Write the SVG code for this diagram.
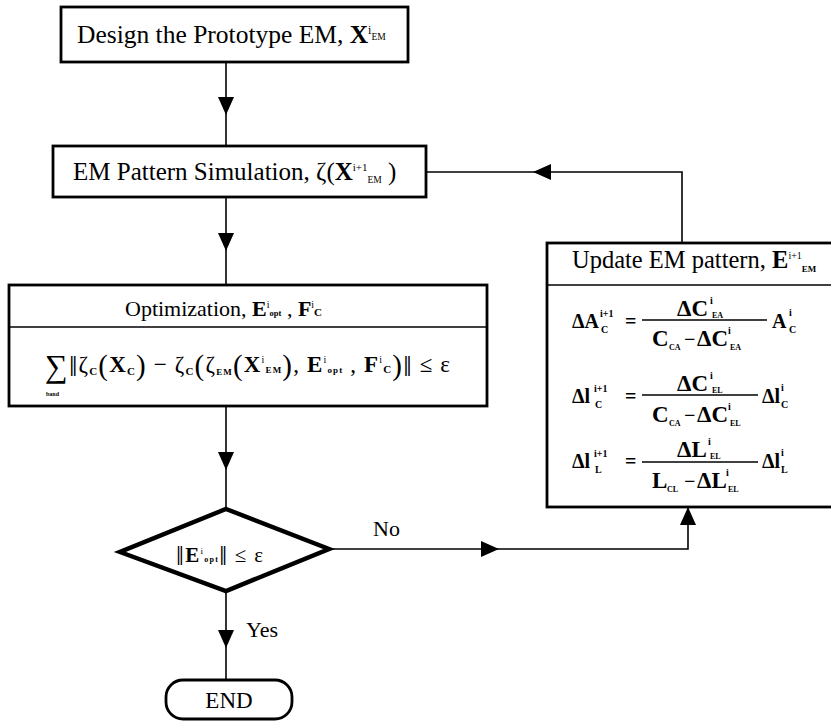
<svg xmlns="http://www.w3.org/2000/svg" width="831" height="722" viewBox="0 0 831 722">
<style>
text{font-family:"Liberation Serif","Times New Roman","DejaVu Serif",serif;fill:#000}
.box{fill:#fff;stroke:#000;stroke-width:2.8}
.dia{fill:#fff;stroke:#000;stroke-width:4.5;stroke-linejoin:miter}
.div{stroke:#000;stroke-width:1.5}
.bar{stroke:#000;stroke-width:1.3}
.con{fill:none;stroke:#000;stroke-width:1.6}
.b{font-weight:bold}
.m{font-size:20px;font-weight:bold}
.n{font-size:23px;font-weight:bold}
.sp{font-size:10px;font-weight:bold}
.sb{font-size:8px;font-weight:bold}
</style>
<defs>
<marker id="ah" viewBox="0 0 18 16" refX="18" refY="8" markerWidth="18" markerHeight="16" markerUnits="userSpaceOnUse" orient="auto">
<path d="M0,0 L18,8 L0,16 z" fill="#000"/>
</marker>
</defs>

<g id="connectors">
<path class="con" d="M226,62 V115" marker-end="url(#ah)"/>
<path class="con" d="M226,115 V146"/>
<path class="con" d="M226,197 V251" marker-end="url(#ah)"/>
<path class="con" d="M226,251 V285"/>
<path class="con" d="M226,406 V470" marker-end="url(#ah)"/>
<path class="con" d="M226,470 V509"/>
<path class="con" d="M226,591 V648" marker-end="url(#ah)"/>
<path class="con" d="M226,648 V680"/>
<path class="con" d="M329,549 H499" marker-end="url(#ah)"/>
<path class="con" d="M499,549 H688 V507" marker-end="url(#ah)"/>
<path class="con" d="M682,243 V172 H533" marker-end="url(#ah)"/>
<path class="con" d="M533,172 H426"/>
<text x="373" y="536" style="font-size:22px">No</text>
<text x="246" y="637" style="font-size:22px">Yes</text>
</g>

<g id="n-design">
<rect class="box" x="61" y="7" width="347" height="55"/>
<text x="77" y="43" style="font-size:25.5px">Design the Prototype EM, <tspan class="b">X</tspan><tspan font-size="12" baseline-shift="9">i</tspan><tspan font-size="9.5" baseline-shift="3">EM</tspan></text>
</g>

<g id="n-sim">
<rect class="box" x="53" y="146" width="373" height="51"/>
<text x="73" y="180" style="font-size:25px">EM Pattern Simulation, ζ(<tspan class="b">X</tspan><tspan font-size="11" baseline-shift="9">i+1</tspan><tspan font-size="9.5" baseline-shift="-3">EM</tspan> )</text>
</g>

<g id="n-opt">
<rect class="box" x="9" y="285" width="478" height="121"/>
<line class="div" x1="9" y1="327" x2="487" y2="327"/>
<text x="125" y="316" style="font-size:22px">Optimization,   <tspan class="b">E</tspan><tspan font-size="10" baseline-shift="8">i</tspan><tspan font-size="8.5" font-weight="bold">opt</tspan> , <tspan class="b">F</tspan><tspan font-size="10" baseline-shift="8">i</tspan><tspan font-size="11" font-weight="bold">C</tspan></text>
<text x="45" y="372" style="font-size:23px" textLength="405" lengthAdjust="spacing"><tspan font-size="32" baseline-shift="-5">∑</tspan><tspan font-size="30" baseline-shift="-4">‖</tspan>ζ<tspan font-size="11" font-weight="bold" baseline-shift="-3">C</tspan><tspan font-size="29" baseline-shift="-3">(</tspan><tspan class="b">X</tspan><tspan font-size="11" font-weight="bold" baseline-shift="-3">C</tspan><tspan font-size="29" baseline-shift="-3">)</tspan> − ζ<tspan font-size="11" font-weight="bold" baseline-shift="-3">C</tspan><tspan font-size="29" baseline-shift="-3">(</tspan>ζ<tspan font-size="9" font-weight="bold" baseline-shift="-3">EM</tspan><tspan font-size="29" baseline-shift="-3">(</tspan><tspan class="b">X</tspan><tspan font-size="10" baseline-shift="9">i</tspan><tspan font-size="9" font-weight="bold" baseline-shift="-1">EM</tspan><tspan font-size="29" baseline-shift="-3">)</tspan>, <tspan class="b">E</tspan><tspan font-size="10" baseline-shift="9">i</tspan><tspan font-size="9" font-weight="bold" baseline-shift="-1">opt</tspan> , <tspan class="b">F</tspan><tspan font-size="10" baseline-shift="9">i</tspan><tspan font-size="11" font-weight="bold" baseline-shift="-1">C</tspan><tspan font-size="29" baseline-shift="-3">)</tspan><tspan font-size="30" baseline-shift="-4">‖</tspan> ≤ ε</text>
<text x="46" y="396" font-size="6" font-weight="bold">band</text>
</g>

<g id="n-decision">
<polygon class="dia" points="226,509 329,549 226,591 120,552"/>
<text x="176" y="562" style="font-size:21px" textLength="87" lengthAdjust="spacing"><tspan font-size="28" baseline-shift="-3">‖</tspan><tspan class="b">E</tspan><tspan font-size="9" baseline-shift="8">i</tspan><tspan font-size="8" font-weight="bold">opt</tspan><tspan font-size="28" baseline-shift="-3">‖</tspan> ≤ ε</text>
</g>

<g id="n-update">
<rect class="box" x="547" y="243" width="293" height="264"/>
<line class="div" x1="547" y1="285" x2="831" y2="285"/>
<text x="572" y="268" style="font-size:24.5px">Update EM pattern, <tspan class="b">E</tspan><tspan font-size="10" baseline-shift="9">i+1</tspan><tspan font-size="9" font-weight="bold" baseline-shift="-4">EM</tspan></text>

<text x="572" y="328" class="m">ΔA</text>
<text x="600" y="317" class="sp">i+1</text>
<text x="601" y="333" class="sp">C</text>
<text x="625" y="328" class="m">=</text>
<line class="bar" x1="642" y1="320" x2="767" y2="320"/>
<text x="677" y="316" class="n">ΔC</text>
<text x="710" y="304" class="sp">i</text>
<text x="712" y="318" class="sb">EA</text>
<text x="652" y="346" class="n">C</text>
<text x="669" y="350" class="sb">CA</text>
<text x="684" y="346" class="m">−</text>
<text x="697" y="346" class="n">ΔC</text>
<text x="728" y="334" class="sp">i</text>
<text x="730" y="350" class="sb">EA</text>
<text x="772" y="328" class="m">A</text>
<text x="789" y="316" class="sp">i</text>
<text x="789" y="333" class="sp">C</text>

<text x="572" y="403" class="m">Δl</text>
<text x="594" y="392" class="sp">i+1</text>
<text x="595" y="408" class="sp">C</text>
<text x="625" y="403" class="m">=</text>
<line class="bar" x1="642" y1="395" x2="758" y2="395"/>
<text x="677" y="391" class="n">ΔC</text>
<text x="710" y="379" class="sp">i</text>
<text x="712" y="393" class="sb">EL</text>
<text x="652" y="422" class="n">C</text>
<text x="669" y="426" class="sb">CA</text>
<text x="684" y="422" class="m">−</text>
<text x="697" y="422" class="n">ΔC</text>
<text x="728" y="410" class="sp">i</text>
<text x="730" y="426" class="sb">EL</text>
<text x="762" y="403" class="m">Δl</text>
<text x="781" y="391" class="sp">i</text>
<text x="781" y="408" class="sp">C</text>

<text x="572" y="468" class="m">Δl</text>
<text x="594" y="457" class="sp">i+1</text>
<text x="595" y="473" class="sp">L</text>
<text x="625" y="468" class="m">=</text>
<line class="bar" x1="642" y1="462" x2="758" y2="462"/>
<text x="677" y="457" class="n">ΔL</text>
<text x="708" y="445" class="sp">i</text>
<text x="710" y="459" class="sb">EL</text>
<text x="652" y="488" class="n">L</text>
<text x="667" y="492" class="sb">CL</text>
<text x="684" y="488" class="m">−</text>
<text x="697" y="488" class="n">ΔL</text>
<text x="726" y="476" class="sp">i</text>
<text x="728" y="492" class="sb">EL</text>
<text x="762" y="468" class="m">Δl</text>
<text x="781" y="456" class="sp">i</text>
<text x="781" y="473" class="sp">L</text>
</g>

<g id="n-end">
<rect class="box" x="166" y="680" width="126" height="39" rx="17" ry="17"/>
<text x="229" y="708" text-anchor="middle" style="font-size:23px">END</text>
</g>
</svg>
